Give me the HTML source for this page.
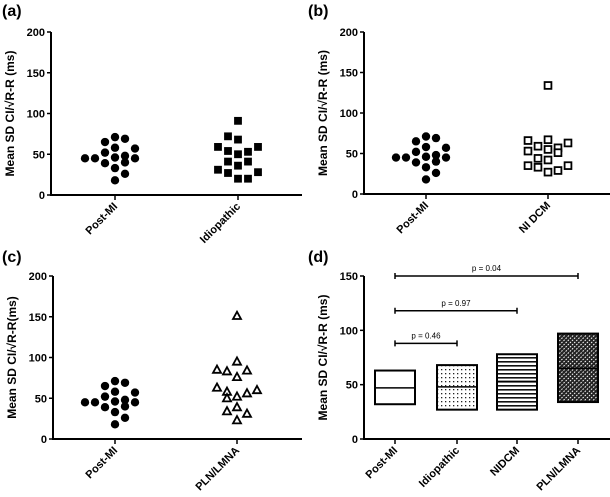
<!DOCTYPE html>
<html><head><meta charset="utf-8"><style>
body{margin:0;background:#fff}
svg{display:block;font-family:"Liberation Sans",Arial,sans-serif}
</style></head><body>
<svg id="fig" width="610" height="497" viewBox="0 0 610 497" xmlns="http://www.w3.org/2000/svg">
<defs>
<pattern id="pDots" width="4" height="4" patternUnits="userSpaceOnUse"><rect width="4" height="4" fill="#fff"/><rect x="1" y="1" width="1.3" height="1.3" fill="#222"/></pattern>
<pattern id="pLines" width="4" height="4" patternUnits="userSpaceOnUse"><rect width="4" height="4" fill="#fff"/><rect x="0" y="1" width="4" height="1.6" fill="#111"/></pattern>
<pattern id="pHatch" width="3" height="3" patternUnits="userSpaceOnUse" patternTransform="rotate(45)"><rect width="3" height="3" fill="#222"/><rect x="0" y="0" width="1" height="1.6" fill="#fff"/></pattern>
</defs>
</svg>
<script>
// Panel a
const aCats=["Post-MI","Idiopathic"];
const postMI=[45,45,65,71,69,52,58,57,39,46,48,40,45,33,26,18];
const postMIOff=[-3,-2,-1,0,1,-1,0,2,-1,0,1,1,2,0,1,0];
const idio=[91,72,68,59,54,50,53,59,41,36,41,31,27,28,20,20];
const idioOff=[0,-1,0,-2,-1,0,1,2,-1,0,1,-2,-1,2,0,1];
// Panel b
const bCats=["Post-MI","NI DCM"];
const nidcm=[134,66,59,67,57,63,53,55,51,44,42,35,33,35,27,29];
const nidcmOff=[0,-2,-1,0,1,2,-2,0,1,-1,0,-2,-1,2,0,1];
// Panel c
const cCats=["Post-MI","PLN/LMNA"];
const pln=[151,95,85,83,76,84,63,58,50,52,56,60,39,34,31,23];
const plnOff=[0,0,-2,-1,0,1,-2,-1,-1,0,1,2,0,-1,1,0];
// Panel d
const dCats=["Post-MI","Idiopathic","NIDCM","PLN/LMNA"];
const boxLow=[32,27,27,34];
const boxHigh=[63,68,78,97];
const boxMed=[47,48,53,65];
const pLabels=["p = 0.46","p = 0.97","p = 0.04"];
const pY=[88,118,150];
const pTo=[1,2,3];
const abTicks=[0,50,100,150,200];
const dTicks=[0,50,100,150];

const NS="http://www.w3.org/2000/svg";
const svg=document.getElementById("fig");
function mk(tag,attrs,parent,text){const e=document.createElementNS(NS,tag);for(const k in attrs)e.setAttribute(k,attrs[k]);if(text!==undefined)e.textContent=text;(parent||svg).appendChild(e);return e;}

function axes(g,o){
  const ys=v=>o.yBot-(v/o.max)*(o.yBot-o.yTop);
  const ax=mk("line",{x1:o.x0,y1:o.yTop,x2:o.x0,y2:o.yBot+1,stroke:"#000","stroke-width":2},g);
  
  
  const bx=mk("line",{x1:o.x0-1,y1:o.yBot,x2:o.x1,y2:o.yBot,stroke:"#000","stroke-width":2},g);
  
  
  o.ticks.forEach(t=>{
    const y=ys(t);
    mk("line",{x1:o.x0-4,y1:y,x2:o.x0,y2:y,stroke:"#000","stroke-width":1.5},g);
    const tl=mk("text",{x:o.x0-6,y:y+4,"text-anchor":"end","font-size":11,"font-weight":"bold"},g,t);
    
    
  });
  o.cats.forEach((c,i)=>{
    const x=o.catX[i];
    mk("line",{x1:x,y1:o.yBot,x2:x,y2:o.yBot+5,stroke:"#000","stroke-width":1.5},g);
    const tl=mk("text",{x:x+3,y:o.yBot+12,"text-anchor":"end","font-size":11,"font-weight":"bold",transform:`rotate(-45 ${x+3} ${o.yBot+12})`},g,c);
    
    
  });
  const cy=(o.yTop+o.yBot)/2;
  const yl=mk("text",{x:o.plx,y:cy,"text-anchor":"middle","font-size":12,"font-weight":"bold",transform:`rotate(-90 ${o.plx} ${cy})`},g,o.label);
  
  
  const pl=mk("text",{x:o.ply[0],y:o.ply[1],"font-size":16,"font-weight":"bold"},g,o.panel);
  
  
  return ys;
}

function scatter(g,ys,cx,vals,offs,shape,name){
  vals.forEach((v,i)=>{
    const x=cx+offs[i]*10, y=ys(v);
    let e;
    if(shape==="circle") e=mk("circle",{cx:x,cy:y,r:4.2,fill:"#000"},g);
    else if(shape==="square") e=mk("rect",{x:x-3.9,y:y-3.9,width:7.8,height:7.8,fill:"#000"},g);
    else if(shape==="osquare") e=mk("rect",{x:x-3.4,y:y-3.4,width:6.8,height:6.8,fill:"#fff",stroke:"#000","stroke-width":1.8},g);
    else e=mk("polygon",{points:`${x},${y-4.2} ${x+4},${y+3.1} ${x-4},${y+3.1}`,fill:"#fff",stroke:"#000","stroke-width":1.8,"stroke-linejoin":"miter"},g);
    
    
  });
}

const label="Mean SD CI/\u221AR-R (ms)";
let g=mk("g",{});
let ys=axes(g,{x0:51,x1:302,yTop:32,yBot:195,max:200,ticks:abTicks,cats:aCats,catX:[115,238],label:label,panel:"(a)",plx:14,ply:[2,16]});
scatter(g,ys,115,postMI,postMIOff,"circle","post-mi-point");
scatter(g,ys,238,idio,idioOff,"square","idiopathic-point");
g=mk("g",{});
ys=axes(g,{x0:364,x1:610,yTop:32,yBot:194,max:200,ticks:abTicks,cats:bCats,catX:[426,548],label:label,panel:"(b)",plx:327,ply:[308,16]});
scatter(g,ys,426,postMI,postMIOff,"circle","post-mi-point");
scatter(g,ys,548,nidcm,nidcmOff,"osquare","ni-dcm-point");
g=mk("g",{});
ys=axes(g,{x0:53,x1:302,yTop:276,yBot:439,max:200,ticks:abTicks,cats:cCats,catX:[115,237],label:"Mean SD CI/\u221AR-R(ms)",panel:"(c)",plx:16,ply:[2,262]});
scatter(g,ys,115,postMI,postMIOff,"circle","post-mi-point");
scatter(g,ys,237,pln,plnOff,"triangle","pln-lmna-point");
g=mk("g",{});
const dX=[395,457,517,578];
ys=axes(g,{x0:364,x1:610,yTop:276,yBot:439,max:150,ticks:dTicks,cats:dCats,catX:dX,label:label,panel:"(d)",plx:327,ply:[308,262]});
const fills=["#fff","url(#pDots)","url(#pLines)","url(#pHatch)"];
dCats.forEach((c,i)=>{
  const x=dX[i],yt=ys(boxHigh[i]),yb=ys(boxLow[i]);
  const r=mk("rect",{x:x-20,y:yt,width:40,height:yb-yt,fill:fills[i],stroke:"#000","stroke-width":2},g);
  
  
  const m=mk("line",{x1:x-20,y1:ys(boxMed[i]),x2:x+20,y2:ys(boxMed[i]),stroke:"#000","stroke-width":1.5},g);
  
  
});
pLabels.forEach((p,i)=>{
  const y=ys(pY[i]),x1=dX[0],x2=dX[pTo[i]];
  const b=mk("path",{d:`M${x1},${y-3}V${y+3}M${x1},${y}H${x2}M${x2},${y-3}V${y+3}`,stroke:"#000","stroke-width":1.5,fill:"none"},g);
  
  
  const t=mk("text",{x:(x1+x2)/2,y:y-5,"text-anchor":"middle","font-size":8},g,p);
  
  
});
</script>
</body></html>
